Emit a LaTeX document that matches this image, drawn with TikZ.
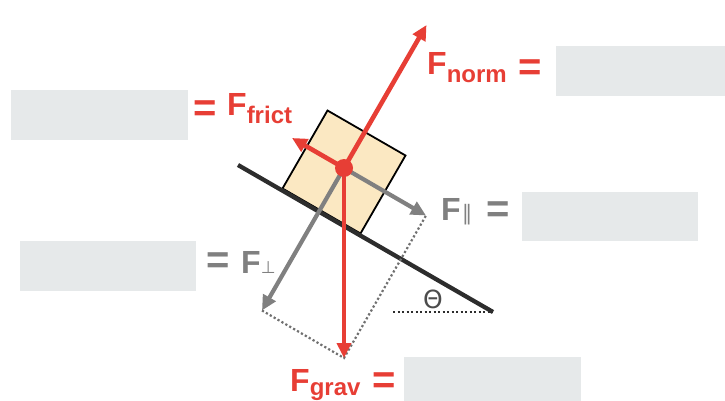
\documentclass[tikz,border=0pt]{standalone}
\usepackage{fontspec}
\setmainfont{Liberation Sans}
\newfontfamily\symf{DejaVu Sans}
\usetikzlibrary{arrows.meta}
\definecolor{fred}{RGB}{231,62,53}
\definecolor{fgray}{RGB}{128,128,128}
\definecolor{dotgray}{RGB}{112,112,112}
\definecolor{boxgray}{RGB}{230,233,234}
\definecolor{blockfill}{RGB}{251,232,194}
\definecolor{slopecol}{RGB}{45,45,45}
\begin{document}
\begin{tikzpicture}[x=1pt,y=-1pt,
  redarrow/.style={draw=fred,line width=4.6pt,-{Triangle[length=15pt,width=14pt]}},
  grayarrow/.style={draw=fgray,line width=4.2pt,-{Triangle[length=15pt,width=14pt]}},
  ansbox/.style={fill=boxgray,draw=none,inner sep=0pt,anchor=north west},
  bigF/.style={anchor=base west,inner sep=0pt,font=\fontsize{32}{32}\selectfont\bfseries},
  eqsign/.style={inner sep=0pt,font=\fontsize{40}{40}\selectfont\bfseries},
  helper/.style={draw=dotgray,line width=2.2pt,dash pattern=on 2.2pt off 2.3pt},
  dotnode/.style={circle,fill=fred,minimum size=18pt,inner sep=0pt},
]
\useasboundingbox (0,0) rectangle (725,401);

% answer boxes
\node[ansbox,minimum width=169pt,minimum height=50pt] (bnorm) at (556,46) {};
\node[ansbox,minimum width=177pt,minimum height=50pt] (bfrict) at (11,90) {};
\node[ansbox,minimum width=176pt,minimum height=50pt] (bperp) at (20,241) {};
\node[ansbox,minimum width=176pt,minimum height=49pt] (bpar) at (522,192) {};
\node[ansbox,minimum width=177pt,minimum height=44pt] (bgrav) at (404,357) {};

% block on incline
\filldraw[fill=blockfill,draw=black,line width=1.8pt,line join=miter]
  (327.5,110.5) -- (405.5,155.5) -- (360.5,233.5) -- (282.5,188.5) -- cycle;
\coordinate (sa) at (238,165);
\coordinate (sb) at (493,312);
\coordinate (ha) at (393,312);
\draw[slopecol,line width=4.3pt] (sa) -- (sb);
\draw[slopecol,line width=2.2pt,dash pattern=on 2.2pt off 2.3pt] (ha) -- (sb);
\node[text=slopecol!85!white,font=\symf\fontsize{25}{25}\selectfont,inner sep=0pt] (theta) at (433,299) {Θ};

% force vectors
\coordinate (o) at (344,168);
\coordinate (tnorm) at (426.5,25);
\coordinate (tfrict) at (292,138);
\coordinate (tpar) at (426,215.5);
\coordinate (tperp) at (262,310.5);
\coordinate (tgrav) at (344,358);

\draw[helper] (tperp) -- (tgrav) -- (tpar);
\draw[grayarrow] (o) -- (tpar);
\draw[grayarrow] (o) -- (tperp);
\draw[redarrow] (o) -- (tgrav);
\draw[redarrow] (o) -- (tnorm);
\draw[redarrow] (o) -- (tfrict);
\node[dotnode] (dot) at (o) {};

% labels
\node[bigF,text=fred] (lnorm) at (427,75) {F\raisebox{-8pt}{\fontsize{24}{24}\selectfont norm}};
\node[eqsign,text=fred] (enorm) at (530.5,70.5) {=};
\node[bigF,text=fred] (lfrict) at (227,116) {F\raisebox{-8pt}{\fontsize{24}{24}\selectfont frict}};
\node[eqsign,text=fred] (efrict) at (205,111.5) {=};
\node[bigF,text=fgray] (lpar) at (441,220) {F\hspace{1pt}{\symf\mdseries\fontsize{21}{21}\selectfont ∥}};
\node[eqsign,text=fgray] (epar) at (498,212.5) {=};
\node[bigF,text=fgray] (lperp) at (241,273) {F{\symf\mdseries\fontsize{17}{17}\selectfont ⊥}};
\node[eqsign,text=fgray] (eperp) at (218,263.5) {=};
\node[bigF,text=fred] (lgrav) at (290,391) {F\raisebox{-4pt}{\fontsize{24}{24}\selectfont grav}};
\node[eqsign,text=fred] (egrav) at (384,383.5) {=};
\end{tikzpicture}
\end{document}
